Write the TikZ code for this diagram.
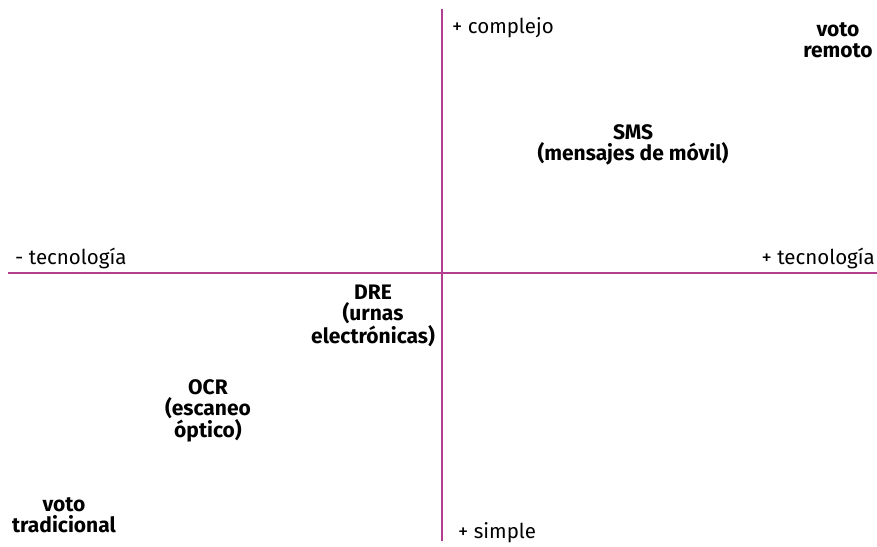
\documentclass[tikz,border=0pt]{standalone}
\usepackage{fontspec}
\setmainfont{Fira Sans}
\definecolor{ejeColor}{RGB}{178,62,142}
\tikzset{
	eje/.style={ejeColor, line width=1.6pt},
	rotulo/.style={inner sep=0pt, font=\fontsize{20.5}{22}\selectfont},
	sistema/.style={inner sep=0pt, align=center, font=\fontsize{21}{21}\selectfont\bfseries},
}
\begin{document}
\begin{tikzpicture}[x=1pt,y=-1pt]
				\useasboundingbox (0,0) rectangle (877,546);
				
				\coordinate (izq) at (8,273);
				\coordinate (der) at (877,273);
				\coordinate (arr) at (442,9);
				\coordinate (aba) at (442,541);
				\draw[eje] (izq) -- (der);
				\draw[eje] (arr) -- (aba);
				
				\node[rotulo, anchor=west] (menosTec) at (15,258) {- tecnología};
				\node[rotulo, anchor=east] (masTec) at (875,258) {+ tecnología};
				\node[rotulo, anchor=west] (complejo) at (452,28) {+ complejo};
				\node[rotulo, anchor=west] (simple) at (458,533) {+ simple};
				
				\node[sistema] (remoto) at (838,40) {voto\\remoto};
				\node[sistema] (sms) at (633,145) {SMS\\(mensajes de móvil)};
				\node[sistema] (dre) at (373,316) {DRE\\(urnas\\electrónicas)};
				\node[sistema] (ocr) at (208,411) {OCR\\(escaneo\\óptico)};
				\node[sistema] (tradicional) at (64,515) {voto\\tradicional};
			\end{tikzpicture}
\end{document}
